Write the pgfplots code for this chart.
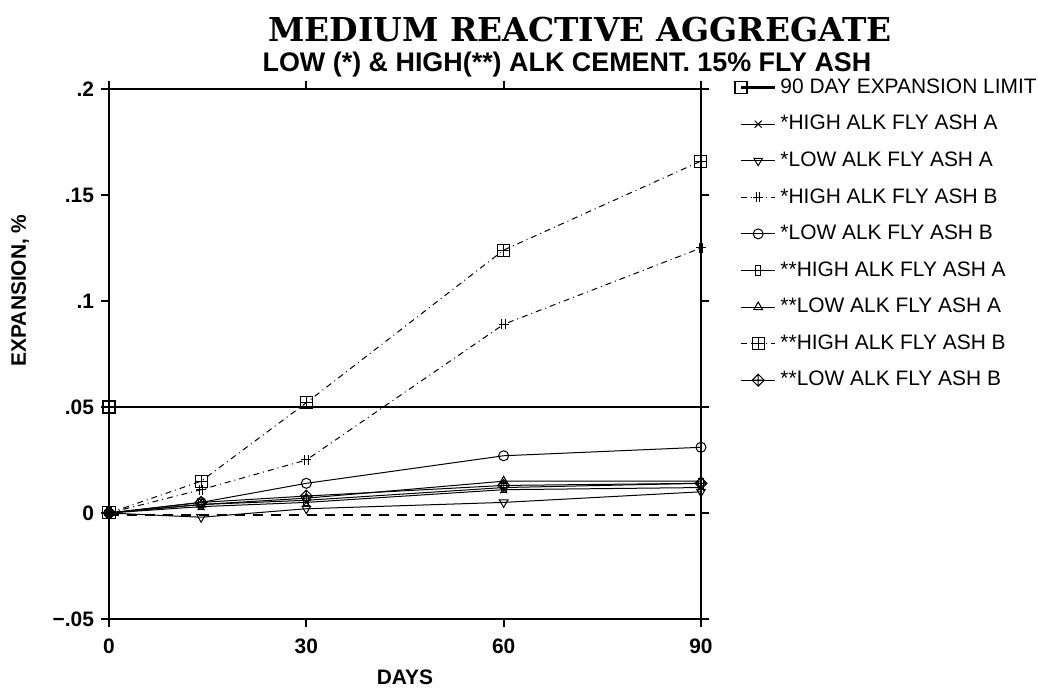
\documentclass[border=0pt]{standalone}
\usepackage{fontspec}
\setmainfont{Liberation Sans}
\newfontfamily\titlefont{DejaVu Serif}
\usepackage{pgfplots}
\pgfplotsset{compat=1.18}

\pgfdeclareplotmark{sqplus}{%
  \pgfpathrectangle{\pgfqpoint{-\pgfplotmarksize}{-\pgfplotmarksize}}{\pgfqpoint{2\pgfplotmarksize}{2\pgfplotmarksize}}%
  \pgfpathmoveto{\pgfqpoint{-\pgfplotmarksize}{0pt}}\pgfpathlineto{\pgfqpoint{\pgfplotmarksize}{0pt}}%
  \pgfpathmoveto{\pgfqpoint{0pt}{-\pgfplotmarksize}}\pgfpathlineto{\pgfqpoint{0pt}{\pgfplotmarksize}}%
  \pgfusepathqstroke}
\pgfdeclareplotmark{dbar}{%
  \pgfpathmoveto{\pgfqpoint{-0.35\pgfplotmarksize}{-\pgfplotmarksize}}\pgfpathlineto{\pgfqpoint{-0.35\pgfplotmarksize}{\pgfplotmarksize}}%
  \pgfpathmoveto{\pgfqpoint{0.35\pgfplotmarksize}{-\pgfplotmarksize}}\pgfpathlineto{\pgfqpoint{0.35\pgfplotmarksize}{\pgfplotmarksize}}%
  \pgfpathmoveto{\pgfqpoint{-\pgfplotmarksize}{0pt}}\pgfpathlineto{\pgfqpoint{\pgfplotmarksize}{0pt}}%
  \pgfusepathqstroke}
\pgfdeclareplotmark{dplus}{%
  \pgfpathmoveto{\pgfqpoint{-\pgfplotmarksize}{0pt}}\pgfpathlineto{\pgfqpoint{0pt}{\pgfplotmarksize}}%
  \pgfpathlineto{\pgfqpoint{\pgfplotmarksize}{0pt}}\pgfpathlineto{\pgfqpoint{0pt}{-\pgfplotmarksize}}\pgfpathclose
  \pgfpathmoveto{\pgfqpoint{-\pgfplotmarksize}{0pt}}\pgfpathlineto{\pgfqpoint{\pgfplotmarksize}{0pt}}%
  \pgfpathmoveto{\pgfqpoint{0pt}{-\pgfplotmarksize}}\pgfpathlineto{\pgfqpoint{0pt}{\pgfplotmarksize}}%
  \pgfusepathqstroke}
\pgfdeclareplotmark{vrect}{%
  \pgfpathrectangle{\pgfqpoint{-0.5\pgfplotmarksize}{-\pgfplotmarksize}}{\pgfqpoint{\pgfplotmarksize}{2\pgfplotmarksize}}%
  \pgfpathmoveto{\pgfqpoint{-\pgfplotmarksize}{0pt}}\pgfpathlineto{\pgfqpoint{\pgfplotmarksize}{0pt}}%
  \pgfusepathqstroke}

\begin{document}
\begin{tikzpicture}
\useasboundingbox (0,0) rectangle (525bp,345.5bp);
\begin{axis}[
  at={(54.5bp,36bp)}, anchor=south west,
  scale only axis, width=296bp, height=265bp,
  xmin=0, xmax=90, ymin=-0.05, ymax=0.2,
  xtick={0,30,60,90},
  ytick={-0.05,0,0.05,0.1,0.15,0.2},
  yticklabels={−.05,0,.05,.1,.15,.2},
  scaled y ticks=false,
  axis line style={line width=1.3bp},
  tick style={line width=1bp, black},
  tick align=outside, major tick length=4bp,
  ticklabel style={font=\bfseries\fontsize{10.5}{12}\selectfont},
  xticklabel style={yshift=-2.5bp},
  /pgf/number format/assume math mode=true,
  xlabel={DAYS}, ylabel={EXPANSION, \%},
  label style={font=\bfseries\fontsize{10.5}{12}\selectfont},
  ylabel style={at={(axis description cs:-0.15,0.62)}, anchor=center},
  xlabel style={at={(axis description cs:0.5,-0.11)}, anchor=center},
  legend style={at={(1.047,1.035)}, anchor=north west, draw=none, fill=none,
    font=\fontsize{10.5}{12}\selectfont, row sep=5.5bp},
  legend cell align=left,
  every axis plot/.append style={black, line width=0.5bp, mark options={solid, line width=0.5bp}},
  mark size=2.5bp,
]
\addplot[line width=1.3bp, mark=square, mark indices={1}, mark size=3bp, mark options={line width=0.7bp}]
  coordinates {(0,0.05) (90,0.05)};
\addlegendentry{90 DAY EXPANSION LIMIT}
\addplot[mark=x] coordinates {(0,0) (14,0.003) (30,0.005) (60,0.011) (90,0.012)};
\addlegendentry{*HIGH ALK FLY ASH A}
\addplot[mark=triangle, mark options={rotate=180}] coordinates {(0,0) (14,-0.002) (30,0.002) (60,0.005) (90,0.010)};
\addlegendentry{*LOW ALK FLY ASH A}
\addplot[mark=dbar, dash dot] coordinates {(0,0) (14,0.011) (30,0.025) (60,0.089) (90,0.125)};
\addlegendentry{*HIGH ALK FLY ASH B}
\addplot[mark=o] coordinates {(0,0) (14,0.005) (30,0.014) (60,0.027) (90,0.031)};
\addlegendentry{*LOW ALK FLY ASH B}
\addplot[mark=vrect] coordinates {(0,0) (14,0.004) (30,0.006) (60,0.012) (90,0.014)};
\addlegendentry{**HIGH ALK FLY ASH A}
\addplot[mark=triangle] coordinates {(0,0) (14,0.004) (30,0.007) (60,0.015) (90,0.015)};
\addlegendentry{**LOW ALK FLY ASH A}
\addplot[mark=sqplus, mark size=3bp, dash dot] coordinates {(0,0) (14,0.015) (30,0.052) (60,0.124) (90,0.166)};
\addlegendentry{**HIGH ALK FLY ASH B}
\addplot[mark=dplus, mark size=3bp] coordinates {(0,0) (14,0.005) (30,0.008) (60,0.013) (90,0.014)};
\addlegendentry{**LOW ALK FLY ASH B}
\addplot[forget plot, line width=1.3bp, dash pattern=on 5bp off 4bp] coordinates {(0,-0.001) (90,-0.001)};
\end{axis}
\node at (290bp,330.5bp) {\titlefont\bfseries\fontsize{16.5}{18}\selectfont MEDIUM REACTIVE AGGREGATE};
\node at (283.5bp,313bp) {\bfseries\fontsize{13.5}{15}\selectfont LOW (*) \& HIGH(**) ALK CEMENT. 15\% FLY ASH};
\end{tikzpicture}
\end{document}
